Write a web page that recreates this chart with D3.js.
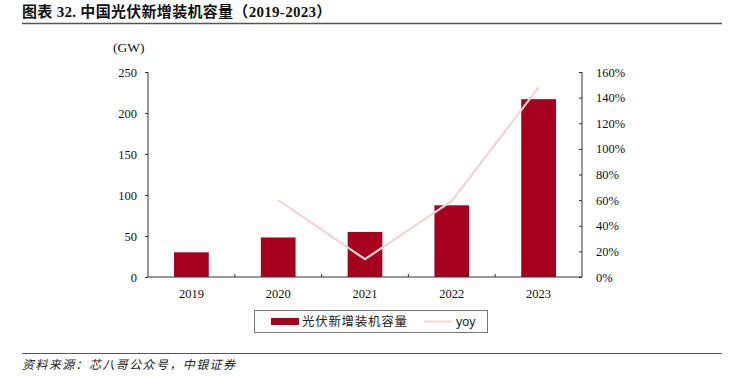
<!DOCTYPE html>
<html><head><meta charset="utf-8">
<script src="https://cdn.jsdelivr.net/npm/d3@7"></script>
<style>
body{margin:0;background:#fff;}
svg{display:block;}
</style></head>
<body>
<svg id="c" width="734" height="378"></svg>
<script>
const categories = ["2019","2020","2021","2022","2023"];
const capacity = [30.11, 48.2, 54.88, 87.41, 216.88];
const yoy = [null, 0.60, 0.139, 0.593, 1.48];
const leftTicks = [0,50,100,150,200,250];
const rightTicks = [0,0.2,0.4,0.6,0.8,1.0,1.2,1.4,1.6];
const titleText = "图表 32. 中国光伏新增装机容量（2019-2023）";
const sourceText = "资料来源：芯八哥公众号，中银证券";
const seriesNames = ["光伏新增装机容量","yoy"];

const svg = d3.select("#c");
const serif = "'Liberation Serif','Times New Roman',serif";
const cjk = "'Noto Sans CJK SC',sans-serif";
const L = 148, R = 582, T = 72, B = 277;
const barColor = "#A6001F", lineColor = "#F2D5D3", axisColor = "#333";

const x = d3.scaleBand().domain(categories).range([L, R]).paddingInner(0.6).paddingOuter(0.3);
const xb = d3.scaleBand().domain(categories).range([L, R]);
const y = d3.scaleLinear().domain([0,250]).range([B, T]);
const y2 = d3.scaleLinear().domain([0,1.6]).range([B, T]);

// title
svg.append("text").attr("x",22).attr("y",17).attr("font-size",15).attr("font-weight","bold")
  .attr("font-family", serif + ",'Noto Sans CJK SC'").attr("fill","#111").attr("letter-spacing",0.3).text(titleText);
svg.append("line").attr("x1",22).attr("x2",722).attr("y1",23.5).attr("y2",23.5).attr("stroke","#555").attr("stroke-width",1.5);

// bars
svg.append("g").selectAll("rect").data(categories).join("rect")
  .attr("x", d=>x(d)).attr("width", x.bandwidth())
  .attr("y", (d,i)=>y(capacity[i])).attr("height",(d,i)=>B - y(capacity[i]))
  .attr("fill", barColor);

// line
const lineGen = d3.line().defined(d=>d.v!=null).x(d=>xb(d.c)+xb.bandwidth()/2).y(d=>y2(d.v));
svg.append("path").datum(categories.map((c,i)=>({c, v: yoy[i]})))
  .attr("d", lineGen).attr("fill","none").attr("stroke",lineColor).attr("stroke-width",2.2);

// left axis
const ga = svg.append("g").attr("transform",`translate(${L},0)`)
  .call(d3.axisLeft(y).tickValues(leftTicks).tickSize(3).tickPadding(8));
ga.selectAll("text").attr("font-family",serif).attr("font-size",12.5).attr("fill","#111");
ga.select(".domain").attr("d",`M0,${T}V${B}`);
// right axis
const gr = svg.append("g").attr("transform",`translate(${R},0)`)
  .call(d3.axisRight(y2).tickValues(rightTicks).tickSize(-3).tickPadding(14).tickFormat(d3.format(".0%")));
gr.selectAll("text").attr("font-family",serif).attr("font-size",12.5).attr("fill","#111");
gr.select(".domain").attr("d",`M0,${T}V${B}`);
// bottom axis
const gb = svg.append("g").attr("transform",`translate(0,${B})`)
  .call(d3.axisBottom(xb).tickSize(0).tickPadding(12));
gb.selectAll("text").attr("font-family",serif).attr("font-size",12.5).attr("fill","#111");
gb.select(".domain").attr("d",`M${L},0H${R}`);
gb.selectAll(".sep").data(categories.slice(1)).join("line").attr("class","sep")
  .attr("x1",d=>xb(d)).attr("x2",d=>xb(d)).attr("y1",0).attr("y2",-3).attr("stroke",axisColor);
svg.selectAll(".domain, .tick line").attr("stroke",axisColor);

// unit label
svg.append("text").attr("x",113).attr("y",52).attr("font-family",serif).attr("font-size",13.5).attr("fill","#111").text("(GW)");

// legend
svg.append("rect").attr("x",254.5).attr("y",310.5).attr("width",233).attr("height",22)
  .attr("fill","#fff").attr("stroke","#777").attr("stroke-width",1);
svg.append("rect").attr("x",271).attr("y",318).attr("width",28).attr("height",7).attr("fill",barColor);
svg.append("text").attr("x",302).attr("y",326).attr("font-family",cjk).attr("font-size",12.5).attr("letter-spacing",0.7).attr("fill","#222").text(seriesNames[0]);
svg.append("line").attr("x1",424).attr("x2",452).attr("y1",321.5).attr("y2",321.5).attr("stroke",lineColor).attr("stroke-width",2);
svg.append("text").attr("x",456).attr("y",326).attr("font-family","'Liberation Sans',Arial,sans-serif").attr("font-size",12.5).attr("fill","#222").text(seriesNames[1]);

// footer
svg.append("line").attr("x1",22).attr("x2",722).attr("y1",353.5).attr("y2",353.5).attr("stroke","#555").attr("stroke-width",1.2);
svg.append("text").attr("x",22).attr("y",369).attr("font-family",cjk).attr("font-size",12).attr("font-style","italic")
  .attr("letter-spacing",1.4).attr("fill","#222").text(sourceText);
</script>
</body></html>
